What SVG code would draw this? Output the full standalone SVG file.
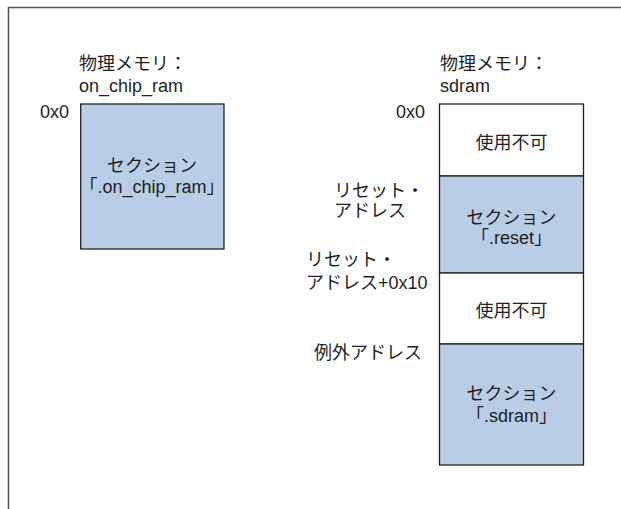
<svg xmlns="http://www.w3.org/2000/svg" width="621" height="509" viewBox="0 0 621 509">
<style>
text{font-family:"Liberation Sans","Noto Sans CJK JP",sans-serif;font-size:18px;fill:#231f20}
.c{text-anchor:middle}
.sec{fill:#b9cde7;stroke:#231f20;stroke-width:1.3}
.na{fill:#ffffff;stroke:#231f20;stroke-width:1.3}
.frame{fill:none;stroke:#555;stroke-width:1.5}
</style>
<rect width="621" height="509" fill="#fff"/>
<path class="frame" d="M8.5,509 V7.5 H621"/>
<g id="title-left">
<text x="79" y="70">物理メモリ：</text>
<text x="79" y="92">on_chip_ram</text>
</g>
<g id="title-right">
<text x="440" y="70">物理メモリ：</text>
<text x="440" y="92">sdram</text>
</g>
<g id="addr-labels">
<text x="40" y="118">0x0</text>
<text x="396" y="118">0x0</text>
<text x="334" y="197">リセット・</text>
<text x="334" y="217">アドレス</text>
<text x="306" y="266">リセット・</text>
<text x="306" y="289">アドレス+0x10</text>
<text x="314" y="359">例外アドレス</text>
</g>
<g id="node-on-chip-ram">
<rect class="sec" x="80.7" y="104" width="143.3" height="145"/>
<text class="c" x="152" y="172">セクション</text>
<text class="c" x="152" y="193">「.on_chip_ram」</text>
</g>
<g id="node-unused-1">
<rect class="na" x="439.5" y="104" width="144" height="72"/>
<text class="c" x="511.5" y="149">使用不可</text>
</g>
<g id="node-reset">
<rect class="sec" x="439.5" y="176" width="144" height="97"/>
<text class="c" x="511.5" y="224">セクション</text>
<text class="c" x="511.5" y="244">「.reset」</text>
</g>
<g id="node-unused-2">
<rect class="na" x="439.5" y="273" width="144" height="71"/>
<text class="c" x="511.5" y="317">使用不可</text>
</g>
<g id="node-sdram">
<rect class="sec" x="439.5" y="344" width="144" height="121"/>
<text class="c" x="511.5" y="400">セクション</text>
<text class="c" x="511.5" y="422">「.sdram」</text>
</g>
<g id="connectors"></g>
</svg>
